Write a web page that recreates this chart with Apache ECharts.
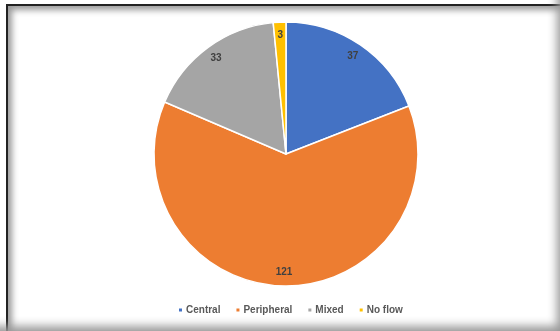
<!DOCTYPE html>
<html>
<head>
<meta charset="utf-8">
<script src="https://cdn.jsdelivr.net/npm/echarts@6/dist/echarts.min.js"></script>
<style>
  html, body { margin: 0; padding: 0; background: #fff; }
  .frame {
    position: absolute; left: 6px; top: 4px; width: 560px; height: 331px;
    border-left: 2px solid #222; border-top: 2px solid #222;
    box-shadow: inset 4px 4px 6px #999;
  }
  .edge {
    position: absolute; left: 0; top: 0; width: 560px; height: 331px;
    box-shadow: inset -9px -11px 10px -6px #999;
  }
  #chart { position: absolute; left: 0; top: 0; width: 560px; height: 331px; }
</style>
</head>
<body>
<div class="frame"></div>
<div class="edge"></div>
<div id="chart"></div>
<script>
var categories = ["Central", "Peripheral", "Mixed", "No flow"];
var values = [37, 121, 33, 3];
var colors = ["#4472C4", "#ED7D31", "#A5A5A5", "#FFC000"];

var pieData = categories.map(function (c, i) {
  return { name: c, value: values[i], itemStyle: { color: colors[i] } };
});

var chart = echarts.init(document.getElementById("chart"));
chart.setOption({
  animation: false,
  legend: {
    bottom: 11,
    left: 172,
    itemWidth: 5,
    itemHeight: 5,
    itemGap: 14,
    icon: "rect",
    textStyle: { fontSize: 10, fontWeight: "bold", color: "#595959", fontFamily: "Liberation Sans", padding: [0, 0, 0, -2] },
    data: categories
  },
  series: [
    {
      type: "pie",
      center: [286, 154],
      radius: [0, 132],
      startAngle: 90,
      clockwise: true,
      label: { show: false },
      labelLine: { show: false },
      itemStyle: { borderColor: "#fff", borderWidth: 1.5 },
      data: pieData
    },
    {
      type: "pie",
      center: [286, 154],
      radius: [99, 132],
      startAngle: 90,
      clockwise: true,
      silent: true,
      itemStyle: { color: "transparent", borderWidth: 0 },
      label: {
        show: true,
        position: "inside",
        formatter: "{c}",
        fontSize: 10,
        fontWeight: "bold",
        color: "#404040",
        fontFamily: "Liberation Sans"
      },
      labelLine: { show: false },
      data: categories.map(function (c, i) { return { name: c, value: values[i] }; })
    }
  ]
});
</script>
</body>
</html>
